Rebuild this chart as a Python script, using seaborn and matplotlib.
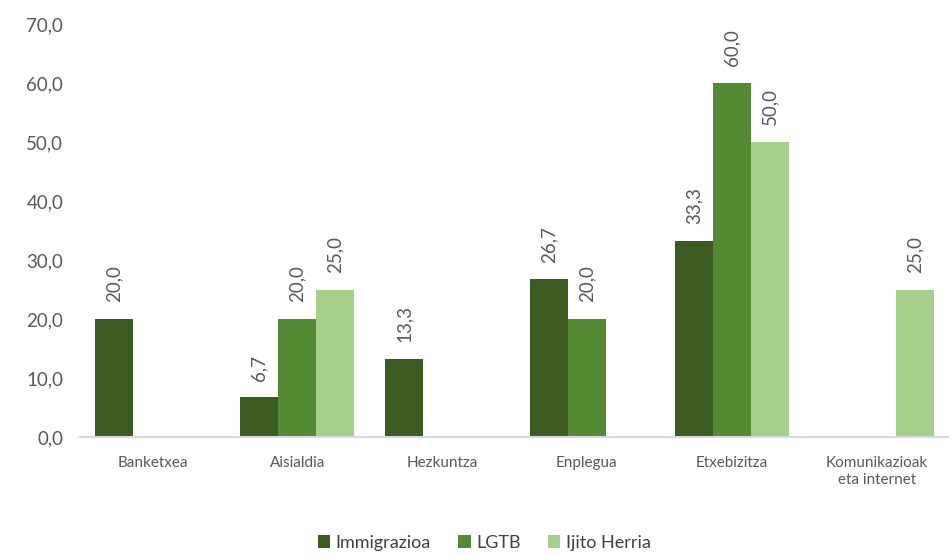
import numpy as np
import pandas as pd
import seaborn as sns
import matplotlib.pyplot as plt

# data
categories = ['Banketxea', 'Aisialdia', 'Hezkuntza', 'Enplegua', 'Etxebizitza',
              'Komunikazioak\neta internet']
series = ['Immigrazioa', 'LGTB', 'Ijito Herria']
immigrazioa = [20.0, 6.7, 13.3, 26.7, 33.3, np.nan]
lgtb = [np.nan, 20.0, np.nan, 20.0, 60.0, np.nan]
ijito = [np.nan, 25.0, np.nan, np.nan, 50.0, 25.0]
yticks = [0, 10, 20, 30, 40, 50, 60, 70]

palette = ['#3B5B20', '#548A33', '#A6CF8B']

df = pd.DataFrame({
    'Kategoria': categories * 3,
    'Taldea': [s for s in series for _ in categories],
    'Balioa': immigrazioa + lgtb + ijito,
}).dropna()

sns.set_style('white')
plt.rcParams['font.family'] = ['Lato', 'DejaVu Sans']
txt = '#595959'

fig = plt.figure(figsize=(9.49, 5.57), dpi=100)
ax = fig.add_axes([80 / 949, 1 - 437 / 557, 869 / 949, 413 / 557])

sns.barplot(data=df, x='Kategoria', y='Balioa', hue='Taldea', order=categories,
            hue_order=series, palette=palette, width=0.79, saturation=1,
            errorbar=None, linewidth=0, ax=ax)

for cont in ax.containers:
    ax.bar_label(cont, labels=[f'{b.get_height():.1f}'.replace('.', ',') for b in cont],
                 rotation=90, padding=12, fontsize=13.5, color=txt)

ax.set_ylim(0, 70)
ax.set_xlim(-0.5, len(categories) - 0.5)
ax.set_yticks(yticks)
ax.set_yticklabels([f'{v:.1f}'.replace('.', ',') for v in yticks], fontsize=13.5, color=txt)
ax.tick_params(axis='x', labelsize=11, labelcolor=txt, length=0, pad=14)
ax.tick_params(axis='y', length=0, pad=12)
ax.set_xlabel('')
ax.set_ylabel('')
for s in ['top', 'right', 'left']:
    ax.spines[s].set_visible(False)
ax.spines['bottom'].set_color('#D9D9D9')
ax.spines['bottom'].set_linewidth(1.5)

handles, labels = ax.get_legend_handles_labels()
ax.legend_.remove()
fig.legend(handles, labels, loc='center', bbox_to_anchor=(0.51, 0.026), ncol=3,
           frameon=False, fontsize=13, handlelength=0.7, handleheight=0.7,
           handletextpad=0.3, columnspacing=1.5, labelcolor='#404040')

fig.savefig('out.png', dpi=100)
